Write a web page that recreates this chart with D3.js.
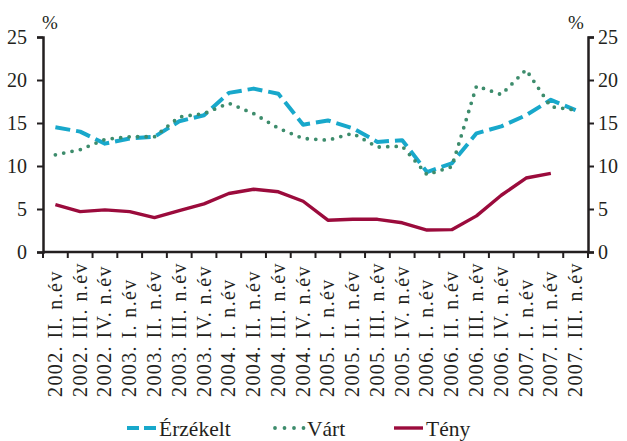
<!DOCTYPE html>
<html>
<head>
<meta charset="utf-8">
<script src="https://cdn.jsdelivr.net/npm/d3@7"></script>
<style>
  body { margin: 0; background: #fff; }
  text { font-family: "Liberation Serif", "DejaVu Serif", serif; fill: #231f20; }
</style>
</head>
<body>
<svg id="chart" width="627" height="441"></svg>
<script>
// quarters on the x axis
const quarters = [
  "2002. II. n.év", "2002. III. n.év", "2002. IV. n.év",
  "2003. I. n.év", "2003. II. n.év", "2003. III. n.év", "2003. IV. n.év",
  "2004. I. n.év", "2004. II. n.év", "2004. III. n.év", "2004. IV. n.év",
  "2005. I. n.év", "2005. II. n.év", "2005. III. n.év", "2005. IV. n.év",
  "2006. I. n.év", "2006. II. n.év", "2006. III. n.év", "2006. IV. n.év",
  "2007. I. n.év", "2007. II. n.év", "2007. III. n.év"
];
const erzekelt = [14.5, 14.0, 12.6, 13.2, 13.4, 15.2, 15.9, 18.5, 19.0, 18.4, 14.8,
  15.3, 14.4, 12.8, 13.0, 9.3, 10.3, 13.8, 14.6, 15.9, 17.7, 16.5];
const vart = [11.3, 11.9, 13.1, 13.4, 13.4, 15.7, 16.1, 17.3, 16.1, 14.4, 13.2,
  13.0, 13.8, 12.2, 12.3, 9.0, 9.9, 19.3, 18.3, 21.2, 16.9, 16.5];
const teny = [5.5, 4.7, 4.9, 4.7, 4.0, 4.8, 5.6, 6.8, 7.3, 7.0, 5.9,
  3.7, 3.8, 3.8, 3.4, 2.55, 2.6, 4.2, 6.6, 8.6, 9.15, null];
const yTicks = [0, 5, 10, 15, 20, 25];

const series = [
  { name: "Érzékelt", values: erzekelt, color: "#18a8cb", width: 4, dash: "15,6", cap: "butt" },
  { name: "Várt", values: vart, color: "#3d8c6c", width: 3.8, dash: "0,8.5", cap: "round" },
  { name: "Tény", values: teny, color: "#9b0b3c", width: 3.4, dash: null, cap: "butt" }
];

const margin = { top: 37, right: 39, bottom: 189, left: 43 };
const width = 627 - margin.left - margin.right;
const height = 441 - margin.top - margin.bottom;

const svg = d3.select("#chart");
const g = svg.append("g").attr("transform", `translate(${margin.left},${margin.top})`);

const x = d3.scaleBand().domain(quarters).range([0, width]).padding(0);
const y = d3.scaleLinear().domain([0, 25]).range([height, 0]);

// x axis: ticks on band edges, labels rotated
const xAxis = g.append("g").attr("transform", `translate(0,${height})`);
xAxis.append("line")
  .attr("x1", 0).attr("x2", width)
  .attr("stroke", "#231f20").attr("stroke-width", 2.5);
xAxis.selectAll(".xtick")
  .data(d3.range(quarters.length + 1))
  .enter().append("line")
  .attr("x1", i => i * x.step()).attr("x2", i => i * x.step())
  .attr("y1", 0).attr("y2", 6)
  .attr("stroke", "#231f20").attr("stroke-width", 2);
xAxis.selectAll(".xlabel")
  .data(quarters)
  .enter().append("text")
  .attr("transform", d => `translate(${x(d) + x.bandwidth() / 2 + 6.5},145) rotate(-90)`)
  .attr("text-anchor", "start")
  .style("font-size", "20px")
  .style("letter-spacing", "1.4px")
  .text(d => d);

// y axes, left and right
const leftAxis = g.append("g")
  .call(d3.axisLeft(y).tickValues(yTicks).tickSize(6).tickPadding(10));
const rightAxis = g.append("g").attr("transform", `translate(${width},0)`)
  .call(d3.axisRight(y).tickValues(yTicks).tickSize(6).tickPadding(4));
[leftAxis, rightAxis].forEach(a => {
  a.select(".domain").attr("stroke", "#231f20").attr("stroke-width", 2.5);
  a.selectAll(".tick line").attr("stroke", "#231f20").attr("stroke-width", 2);
  a.selectAll(".tick text")
    .style("font-family", '"Liberation Serif", serif')
    .style("font-size", "20px").attr("fill", "#231f20");
});

g.append("text").attr("x", -1).attr("y", -8).style("font-size", "19px").text("%");
g.append("text").attr("x", width - 20).attr("y", -8).style("font-size", "19px").text("%");

// lines
const line = d3.line()
  .defined(d => d != null)
  .x((d, i) => x(quarters[i]) + x.bandwidth() / 2)
  .y(d => y(d));

series.forEach(s => {
  g.append("path")
    .datum(s.values)
    .attr("fill", "none")
    .attr("stroke", s.color)
    .attr("stroke-width", s.width)
    .attr("stroke-dasharray", s.dash)
    .attr("stroke-linecap", s.cap)
    .attr("stroke-linejoin", "round")
    .attr("d", line);
});

// legend
const legendPos = [127, 273, 394];
const legend = svg.append("g").attr("transform", "translate(0,428)");
series.forEach((s, i) => {
  const lg = legend.append("g").attr("transform", `translate(${legendPos[i]},0)`);
  lg.append("line")
    .attr("x1", s.cap === "round" ? 2 : 0).attr("x2", s.cap === "round" ? 31 : 29)
    .attr("stroke", s.color)
    .attr("stroke-width", s.width)
    .attr("stroke-dasharray", s.name === "Érzékelt" ? "12,5" : (s.dash ? "0,9.5" : null))
    .attr("stroke-linecap", s.cap);
  lg.append("text")
    .attr("x", s.cap === "round" ? 34 : 32).attr("dy", "0.35em")
    .style("font-size", "21.5px")
    .text(s.name);
});
</script>
</body>
</html>
